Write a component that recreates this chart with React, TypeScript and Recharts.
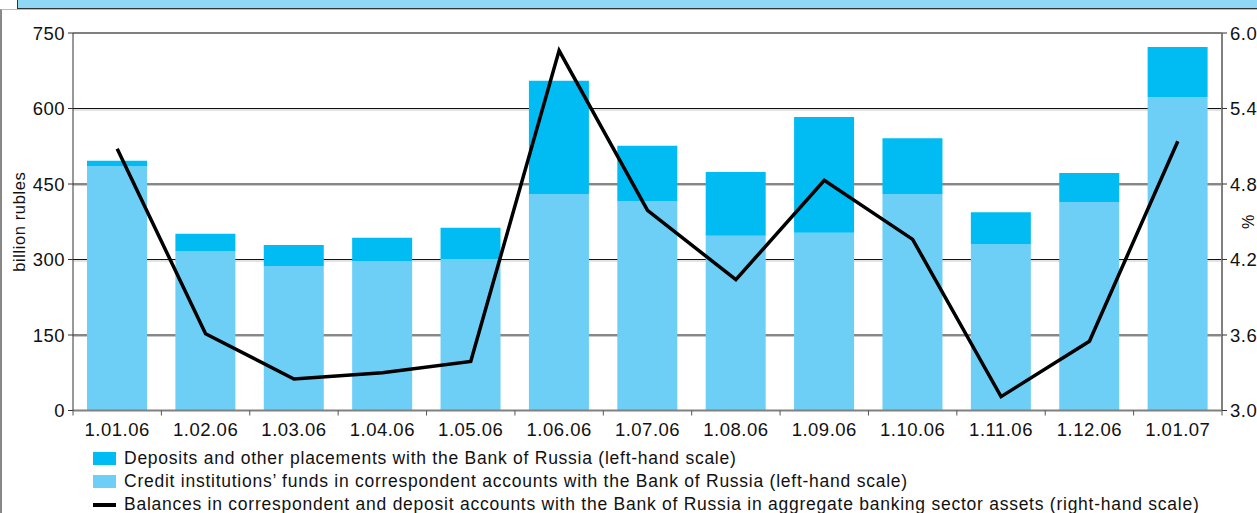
import React from "react";
import { ComposedChart, Bar, Line, XAxis, YAxis, CartesianGrid, ReferenceLine } from "recharts";

const dates = ["1.01.06", "1.02.06", "1.03.06", "1.04.06", "1.05.06", "1.06.06", "1.07.06", "1.08.06", "1.09.06", "1.10.06", "1.11.06", "1.12.06", "1.01.07"];
// billion rubles
const correspondentFunds = [486, 317, 287, 297, 301, 430, 416, 347, 353, 430, 331, 414, 623];
const depositsPlaced = [10, 34, 42, 46, 62, 225, 110, 127, 230, 111, 63, 58, 99];
// % of aggregate banking sector assets
const shareInAssets = [5.08, 3.61, 3.25, 3.3, 3.39, 5.86, 4.59, 4.04, 4.83, 4.36, 3.11, 3.55, 5.14];

const leftTicks = [0, 150, 300, 450, 600, 750];
const rightTicks = [3.0, 3.6, 4.2, 4.8, 5.4, 6.0];

const legendItems = [
  { label: "Deposits and other placements with the Bank of Russia (left-hand scale)", color: "#00bcf2", kind: "box" },
  { label: "Credit institutions\u2019 funds in correspondent accounts with the Bank of Russia (left-hand scale)", color: "#6dcff6", kind: "box" },
  { label: "Balances in correspondent and deposit accounts with the Bank of Russia in aggregate banking sector assets (right-hand scale)", color: "#000", kind: "line" },
];

const data = dates.map((date, i) => ({
  date,
  funds: correspondentFunds[i],
  deposits: depositsPlaced[i],
  share: shareInAssets[i],
}));

const FONT = "'Liberation Sans', Arial, Helvetica, sans-serif";
const PLOT_LEFT = 73;
const PLOT_RIGHT = 1222;
const STEP = (PLOT_RIGHT - PLOT_LEFT) / dates.length;
const tickText = { fontSize: 18.5, fill: "#111", fontFamily: FONT, letterSpacing: 0.5 };

// category labels with tick marks on the band boundaries
function DateTick(props: any) {
  const { x, y, payload, index } = props;
  const left = x - STEP / 2;
  const right = x + STEP / 2;
  return (
    <g>
      <line x1={left} y1={y} x2={left} y2={y + 5} stroke="#555" strokeWidth={1} />
      {index === dates.length - 1 && <line x1={right} y1={y} x2={right} y2={y + 5} stroke="#555" strokeWidth={1} />}
      <text x={x} y={y + 25} textAnchor="middle" style={tickText}>
        {payload.value}
      </text>
    </g>
  );
}

// black gridline with a faint grey shadow just under it
function GridLine(props: any) {
  const { x1, y1, x2, y2 } = props;
  return (
    <g>
      <line x1={x1} y1={y1} x2={x2} y2={y2} stroke="#111" strokeWidth={1} />
      <line x1={x1} y1={y1 + 1.5} x2={x2} y2={y2 + 1.5} stroke="#c8c8c8" strokeWidth={1} />
    </g>
  );
}

export default function App() {
  return (
    <div style={{ position: "absolute", left: 0, top: 0, width: 1257, height: 513, background: "#fff", overflow: "hidden", fontFamily: FONT }}>
      <div style={{ position: "absolute", left: 17, top: 0, width: 1250, height: 8, background: "#8ed8f5", borderLeft: "1px solid #333", borderBottom: "1px solid #333" }} />
      <div style={{ position: "absolute", left: 0, top: 9, width: 1270, height: 520, borderTop: "1px solid #bbb", borderLeft: "2px solid #888" }} />
      <div style={{ position: "absolute", left: 0, top: 0 }}>
        <ComposedChart width={1257} height={513} data={data} margin={{ top: 33, right: 5, left: 13, bottom: 72.5 }}>
          <CartesianGrid yAxisId="left" vertical={false} horizontalValues={[150, 300, 450, 600]} horizontal={(p: any) => <GridLine key={`g-${p.y1}`} {...p} />} />
          <XAxis dataKey="date" tickSize={0} tickMargin={0} tick={<DateTick />} axisLine={{ stroke: "#808080", strokeWidth: 2 }} interval={0} />
          <YAxis
            yAxisId="left"
            domain={[0, 750]}
            ticks={leftTicks}
            width={60}
            tickSize={5}
            tickMargin={3}
            axisLine={{ stroke: "#333", strokeWidth: 1 }}
            tickLine={{ stroke: "#333" }}
            tick={tickText}
            label={{ value: "billion rubles", angle: -90, position: "center", dx: -24, style: { fontSize: 16.5, fill: "#111", fontFamily: FONT, letterSpacing: 0.6 } }}
          />
          <YAxis
            yAxisId="right"
            orientation="right"
            domain={[3, 6]}
            ticks={rightTicks}
            width={30}
            tickSize={5}
            tickMargin={3}
            axisLine={{ stroke: "#808080", strokeWidth: 2 }}
            tickLine={{ stroke: "#333" }}
            tickFormatter={(v: number) => v.toFixed(1)}
            tick={{ ...tickText, textAnchor: "start" }}
            label={{ value: "%", angle: 90, position: "center", dx: 11, style: { fontSize: 16, fill: "#111", fontFamily: FONT } }}
          />
          <ReferenceLine yAxisId="left" y={750} stroke="#808080" strokeWidth={2} />
          <Bar yAxisId="left" dataKey="funds" stackId="a" fill="#6dcff6" barSize={60} isAnimationActive={false} />
          <Bar yAxisId="left" dataKey="deposits" stackId="a" fill="#00bcf2" barSize={60} isAnimationActive={false} />
          <Line yAxisId="right" type="linear" dataKey="share" stroke="#000" strokeWidth={3.5} dot={false} isAnimationActive={false} />
        </ComposedChart>
      </div>
      <div style={{ position: "absolute", left: 93, top: 447 }}>
        {legendItems.map((item) => (
          <div key={item.label} style={{ display: "flex", alignItems: "center", height: 23 }}>
            {item.kind === "box" ? (
              <span style={{ display: "inline-block", width: 23, height: 13, background: item.color }} />
            ) : (
              <span style={{ display: "inline-block", width: 23, height: 4, background: item.color }} />
            )}
            <span style={{ marginLeft: 8, fontSize: 17.5, letterSpacing: 0.75, color: "#111", whiteSpace: "nowrap" }}>{item.label}</span>
          </div>
        ))}
      </div>
    </div>
  );
}
